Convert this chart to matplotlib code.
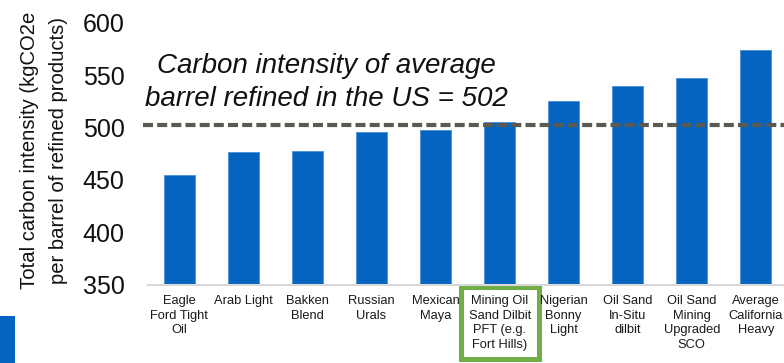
import numpy as np
import matplotlib
matplotlib.use("Agg")
import matplotlib.pyplot as plt
from matplotlib.patches import Rectangle

plt.rcParams['font.family'] = ['Liberation Sans', 'DejaVu Sans']

# crude slates and their refinery carbon intensity
crudes = ["Eagle\nFord Tight\nOil", "Arab Light", "Bakken\nBlend", "Russian\nUrals",
          "Mexican\nMaya", "Mining Oil\nSand Dilbit\nPFT (e.g.\nFort Hills)",
          "Nigerian\nBonny\nLight", "Oil Sand\nIn-Situ\ndilbit",
          "Oil Sand\nMining\nUpgraded\nSCO", "Average\nCalifornia\nHeavy"]
intensity = [455, 477, 478, 496, 498, 505, 525, 540, 547, 574]
us_average = 502
highlight = 5

y_ticks = [350, 400, 450, 500, 550, 600]

blue = '#0564c0'
green = '#70ad47'

fig = plt.figure(figsize=(7.84, 3.63), dpi=100)
ax = fig.add_axes([0.1888, 0.2149, 0.8112, 0.7231])

x = np.arange(len(crudes))
ax.bar(x, intensity, width=0.48, color=blue, edgecolor='#4b8fd6', linewidth=0.6, zorder=2)

xmin, xmax = -0.49, 9.44
ax.set_xlim(xmin, xmax)
ax.set_ylim(y_ticks[0], y_ticks[-1])
ax.set_yticks(y_ticks)
ax.tick_params(axis='y', length=0, labelsize=18, pad=17, labelcolor='#111111')
ax.set_xticks(x)
ax.set_xticklabels(crudes, fontsize=9.3, linespacing=1.32, color='#1a1a1a')
ax.tick_params(axis='x', length=0, pad=7)

for s in ['top', 'right', 'left']:
    ax.spines[s].set_visible(False)
ax.spines['bottom'].set_color('#d9d9d9')
ax.spines['bottom'].set_linewidth(1.5)

# US average reference line
ax.plot([xmin - 0.08, xmax], [us_average, us_average], color='#5a5a52', lw=3,
        dashes=(2.4, 1.0), clip_on=False, zorder=3)
ax.text(2.29, 543, "Carbon intensity of average\nbarrel refined in the US = %d" % us_average,
        fontsize=20, style='italic', ha='center', va='center', linespacing=1.37,
        color='#111111')

# box around the highlighted crude
lbl = ax.get_xticklabels()[highlight]
lbl.set_bbox(dict(boxstyle='square,pad=0.6', facecolor='none', edgecolor=green, linewidth=3.6))

fig.text(44 / 784, 1 - 150 / 363,
         "Total carbon intensity (kgCO2e\nper barrel of refined products)",
         rotation=90, ha='center', va='center', fontsize=14.6, linespacing=1.68,
         color='#111111')

fig.patches.append(Rectangle((0, 0), 15 / 784, 47 / 363, transform=fig.transFigure,
                             facecolor=blue, edgecolor='none'))

fig.savefig('out.png', dpi=100)
